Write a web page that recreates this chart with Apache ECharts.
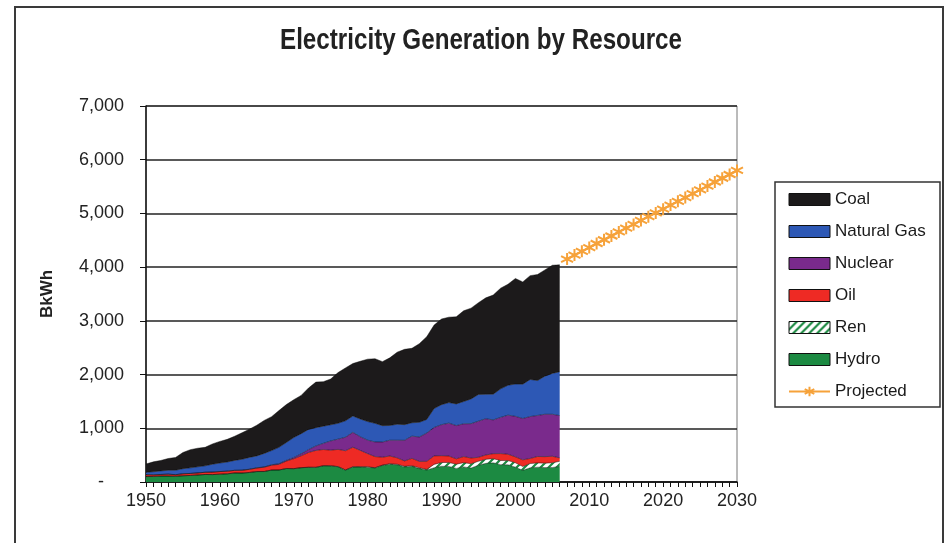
<!DOCTYPE html>
<html>
<head>
<meta charset="utf-8">
<script src="https://cdn.jsdelivr.net/npm/echarts@6/dist/echarts.min.js"></script>
<style>
  html, body { margin: 0; padding: 0; background: #fff; }
  #chart { width: 946px; height: 543px; }
</style>
</head>
<body>
<div id="chart"></div>
<script>
// historical values, BkWh, one per year 1950..2006
const hydro = [
  101, 104, 110, 110, 107, 116, 122, 130, 140, 138,
  146, 152, 168, 166, 177, 194, 195, 222, 223, 250,
  248, 266, 273, 272, 301, 300, 284, 221, 280, 280,
  276, 261, 309, 332, 321, 281, 291, 250, 223, 265,
  293, 289, 253, 281, 260, 311, 347, 357, 323, 320,
  276, 217, 264, 276, 268, 270, 289
];
const ren = [
  0, 0, 0, 0, 0, 0, 0, 0, 0, 0,
  0, 0, 0, 0, 1, 1, 1, 1, 1, 1,
  1, 1, 2, 2, 3, 3, 3, 3, 3, 4,
  6, 6, 5, 7, 9, 11, 12, 14, 12, 63,
  70, 74, 78, 79, 80, 74, 75, 77, 77, 79,
  81, 71, 79, 80, 83, 87, 96
];
const oil = [
  34, 29, 30, 36, 29, 37, 37, 39, 41, 46,
  48, 49, 48, 52, 57, 65, 79, 89, 104, 138,
  184, 220, 274, 314, 301, 289, 320, 358, 365, 304,
  246, 206, 147, 145, 120, 100, 137, 119, 149, 158,
  127, 120, 100, 113, 106, 75, 81, 93, 129, 118,
  111, 125, 95, 119, 121, 122, 64
];
const nuclear = [
  0, 0, 0, 0, 0, 0, 0, 0, 0, 0,
  1, 2, 2, 3, 3, 4, 6, 8, 13, 14,
  22, 38, 54, 83, 114, 173, 191, 251, 276, 255,
  251, 273, 283, 294, 328, 384, 414, 455, 527, 529,
  577, 613, 619, 610, 640, 673, 675, 629, 674, 728,
  754, 769, 780, 764, 789, 782, 787
];
const gas = [
  45, 57, 66, 72, 82, 95, 104, 114, 120, 147,
  158, 169, 184, 202, 220, 222, 251, 265, 304, 333,
  373, 374, 376, 341, 320, 300, 295, 306, 305, 330,
  346, 346, 305, 274, 297, 292, 249, 273, 253, 353,
  373, 382, 404, 415, 460, 496, 455, 479, 531, 556,
  601, 639, 691, 650, 710, 761, 816
];
const coal = [
  155, 185, 195, 219, 239, 301, 339, 346, 344, 378,
  403, 422, 450, 494, 526, 571, 614, 631, 685, 706,
  704, 713, 771, 848, 828, 853, 944, 985, 976, 1075,
  1162, 1203, 1192, 1259, 1342, 1402, 1386, 1464, 1541, 1554,
  1594, 1591, 1621, 1690, 1691, 1709, 1795, 1845, 1874, 1881,
  1966, 1904, 1933, 1974, 1978, 2013, 1991
];
// projection, one per year 2007..2030
const projStart = 2007;
const projected = [
  4150, 4225, 4295, 4365, 4440, 4510, 4580, 4655, 4725, 4795,
  4870, 4940, 5010, 5080, 5155, 5225, 5295, 5370, 5440, 5510,
  5585, 5655, 5725, 5800
];
const legendOrder = ["Coal", "Natural Gas", "Nuclear", "Oil", "Ren", "Hydro", "Projected"];
const yTicks = [0, 1000, 2000, 3000, 4000, 5000, 6000, 7000];

const years = [];
for (let y = 1950; y <= 2030; y++) years.push(String(y));

const colors = {
  Coal: "#1c1a1b",
  "Natural Gas": "#2d58b5",
  Nuclear: "#7a2a8c",
  Oil: "#ee2a24",
  Hydro: "#1c8a42",
  Projected: "#f6a23a",
};

// white tile with green diagonal stripes for the Ren band
function hatch() {
  const c = document.createElement("canvas");
  c.width = 8;
  c.height = 8;
  const g = c.getContext("2d");
  g.fillStyle = "#fff";
  g.fillRect(0, 0, 8, 8);
  g.strokeStyle = colors.Hydro;
  g.lineWidth = 2.2;
  g.beginPath();
  g.moveTo(-2, 10); g.lineTo(10, -2);
  g.moveTo(-2, 2); g.lineTo(2, -2);
  g.moveTo(6, 10); g.lineTo(10, 6);
  g.stroke();
  return { image: c, repeat: "repeat" };
}
const renFill = hatch();

const labelFont = '"Liberation Sans", Arial, sans-serif';
const titleText = "Electricity Generation by Resource";
const titleFont = 'bold 29px "Liberation Sans", Arial, sans-serif';

// squeeze the title horizontally so it reads like the narrow original
function titleScale(width) {
  const g = document.createElement("canvas").getContext("2d");
  g.font = titleFont;
  return Math.min(1, width / g.measureText(titleText).width);
}

function areaSeries(name, values, fill) {
  return {
    type: "line",
    name: name,
    stack: "gen",
    data: values,
    showSymbol: false,
    symbol: "none",
    lineStyle: { width: 0.8, color: "rgba(0,0,0,0.55)" },
    itemStyle: { color: colors[name] || colors.Hydro },
    areaStyle: { color: fill || colors[name], opacity: 1 },
    emphasis: { disabled: true },
  };
}

const projData = years.map((y) => {
  const i = Number(y) - projStart;
  return i >= 0 ? projected[i] : null;
});

const star = "path://M5,0L5,10M0.7,2.5L9.3,7.5M0.7,7.5L9.3,2.5";

const legendData = legendOrder.map((name) => {
  if (name === "Projected") return { name: name };
  return {
    name: name,
    icon: "rect",
    itemStyle: {
      color: name === "Ren" ? renFill : colors[name],
      borderColor: "#111",
      borderWidth: 1,
    },
  };
});

const chart = echarts.init(document.getElementById("chart"), null, { renderer: "canvas" });
chart.setOption({
  animation: false,
  backgroundColor: "#fff",
  textStyle: { fontFamily: labelFont },
  graphic: [
    {
      type: "rect",
      shape: { x: 15, y: 7, width: 928, height: 560 },
      style: { fill: "none", stroke: "#3a3a3a", lineWidth: 2 },
      silent: true,
    },
    {
      type: "rect",
      shape: { x: 775, y: 182, width: 165, height: 225 },
      style: { fill: "none", stroke: "#333", lineWidth: 1.5 },
      silent: true,
    },
    {
      type: "text",
      x: 481,
      y: 41,
      scaleX: titleScale(402),
      style: {
        text: titleText,
        font: titleFont,
        fill: "#222",
        align: "center",
        verticalAlign: "middle",
      },
      silent: true,
    },
  ],
  legend: {
    orient: "vertical",
    left: 783,
    top: 186,
    itemWidth: 41,
    itemHeight: 12,
    itemGap: 15,
    selectedMode: false,
    textStyle: { fontSize: 17, color: "#1a1a1a", fontFamily: labelFont },
    data: legendData,
  },
  grid: { left: 146, right: 209, top: 106, bottom: 61, containLabel: false, show: true, borderColor: "#777", borderWidth: 1 },
  xAxis: {
    type: "category",
    data: years,
    boundaryGap: false,
    axisLine: { lineStyle: { color: "#111", width: 1.5 } },
    axisTick: { interval: 0, length: 5, lineStyle: { color: "#111" } },
    axisLabel: { interval: 9, fontSize: 18, color: "#222", margin: 10 },
    splitLine: { show: false },
  },
  yAxis: {
    type: "value",
    min: yTicks[0],
    max: yTicks[yTicks.length - 1],
    interval: 1000,
    name: "BkWh",
    nameLocation: "middle",
    nameGap: 90,
    nameTextStyle: { fontSize: 17, fontWeight: "bold", color: "#222" },
    axisLine: { show: true, lineStyle: { color: "#111", width: 1.5 } },
    axisTick: { show: true, length: 6, lineStyle: { color: "#111" } },
    axisLabel: {
      fontSize: 18,
      color: "#222",
      margin: 22,
      formatter: (v) => (v === 0 ? "-    " : v.toLocaleString("en-US")),
    },
    splitLine: { lineStyle: { color: "#222", width: 1.5 } },
  },
  series: [
    areaSeries("Hydro", hydro),
    areaSeries("Ren", ren, renFill),
    areaSeries("Oil", oil),
    areaSeries("Nuclear", nuclear),
    areaSeries("Natural Gas", gas),
    areaSeries("Coal", coal),
    {
      type: "line",
      name: "Projected",
      data: projData,
      symbol: star,
      symbolSize: 12,
      showSymbol: true,
      showAllSymbol: true,
      lineStyle: { color: colors.Projected, width: 2 },
      itemStyle: { color: colors.Projected, borderColor: colors.Projected, borderWidth: 2 },
      emphasis: { disabled: true },
      z: 5,
    },
  ],
});
</script>
</body>
</html>
